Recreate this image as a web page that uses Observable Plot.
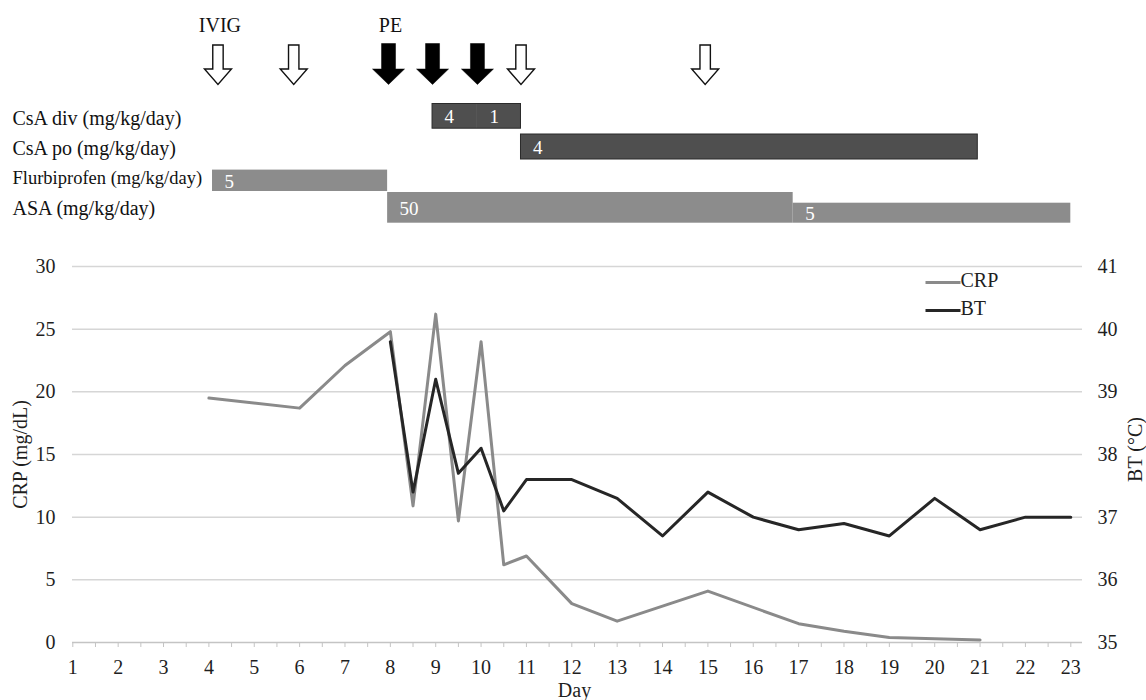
<!DOCTYPE html>
<html>
<head>
<meta charset="utf-8">
<script src="https://cdn.jsdelivr.net/npm/d3@7"></script>
<script src="https://cdn.jsdelivr.net/npm/@observablehq/plot@0.6"></script>
<style>
  body { margin: 0; background: #fff; }
  #chart svg { display: block; }
</style>
</head>
<body>
<div id="chart"></div>
<script>
// ---------------- data ----------------
const drugs = ["CsA div", "CsA po", "Flurbiprofen", "ASA"];
const doseUnit = "(mg/kg/day)";

const segDrug  = ["CsA div", "CsA div", "CsA po", "Flurbiprofen", "ASA", "ASA"];
const segStart = [8.93, 9.92, 10.88, 4.08, 7.94, 16.88];
const segEnd   = [9.92, 10.88, 20.95, 7.94, 16.88, 23];
const segDose  = [4, 1, 4, 5, 50, 5];

const eventDay  = [4.2, 5.87, 7.96, 8.93, 9.92, 10.88, 14.94];
const eventType = ["IVIG", "IVIG", "PE", "PE", "PE", "IVIG", "IVIG"];

const crpDay = [4, 6, 7, 8, 8.5, 9, 9.5, 10, 10.5, 11, 12, 13, 15, 17, 18, 19, 21];
const crpVal = [19.5, 18.7, 22.1, 24.8, 10.9, 26.2, 9.7, 24.0, 6.2, 6.9, 3.1, 1.7, 4.1, 1.5, 0.9, 0.4, 0.2];

const btDay = [8, 8.5, 9, 9.5, 10, 10.5, 11, 12, 13, 14, 15, 16, 17, 18, 19, 20, 21, 22, 23];
const btVal = [39.8, 37.4, 39.2, 37.7, 38.1, 37.1, 37.6, 37.6, 37.3, 36.7, 37.4, 37.0, 36.8, 36.9, 36.7, 37.3, 36.8, 37.0, 37.0];

const dayTicks = d3.range(1, 24);
const crpTicks = [0, 5, 10, 15, 20, 25, 30];
const btTicks  = [35, 36, 37, 38, 39, 40, 41];
const seriesNames = ["CRP", "BT"];
const axisTitles = {crp: "CRP (mg/dL)", bt: "BT (°C)", x: "Day"};

// ---------------- build ----------------
const W = 1146;
const font = "'Liberation Serif', 'Times New Roman', serif";
const xScale = {domain: [dayTicks[0], dayTicks[dayTicks.length - 1]], range: [72.3, 1070.3]};
const darkFill = "#4f4f4f", grayFill = "#8c8c8c";
const crpColor = "#8a8a8a", btColor = "#262626";

const segs = segDrug.map((drug, i) => ({drug, start: segStart[i], end: segEnd[i], dose: segDose[i]}));
const events = eventDay.map((day, i) => ({day, type: eventType[i]}));
const firstEvents = d3.groups(events, d => d.type).map(([, v]) => v[0]);
const isDark = d => d.drug.startsWith("CsA");

const rowInset = {"CsA div": [0.5, 4.8], "CsA po": [1, 4], "Flurbiprofen": [6.6, 2], "ASA": [-1, 0.3]};
const insetTopFor = s => (s.drug === "ASA" && s.dose < d3.max(segs.filter(d => d.drug === "ASA"), d => d.dose)) ? 9.7 : rowInset[s.drug][0];
const insetBottomFor = s => rowInset[s.drug][1];

const darkOutline = d3.rollups(segs.filter(isDark),
  v => ({drug: v[0].drug, start: d3.min(v, d => d.start), end: d3.max(v, d => d.end)}),
  d => d.drug).map(d => d[1]);

const hollowArrow = {draw(ctx) {
  ctx.moveTo(-5.2, -19); ctx.lineTo(5.2, -19); ctx.lineTo(5.2, 5); ctx.lineTo(13.5, 5);
  ctx.lineTo(0, 20.5); ctx.lineTo(-13.5, 5); ctx.lineTo(-5.2, 5); ctx.closePath();
}};
const solidArrow = {draw(ctx) {
  ctx.moveTo(-7, -20.5); ctx.lineTo(7, -20.5); ctx.lineTo(7, 5); ctx.lineTo(16, 5);
  ctx.lineTo(0, 20.5); ctx.lineTo(-16, 5); ctx.lineTo(-7, 5); ctx.closePath();
}};
const legendLine = {draw(ctx) { ctx.moveTo(-17.5, 0); ctx.lineTo(17.5, 0); }};

const segMarks = segs.flatMap(s => {
  const it = insetTopFor(s), ib = insetBottomFor(s);
  return [
    Plot.barX([s], {x1: "start", x2: "end", y: "drug", fill: isDark(s) ? darkFill : grayFill,
      insetTop: it, insetBottom: ib}),
    Plot.text([s], {x: "start", y: "drug", text: d => String(d.dose), textAnchor: "start",
      lineAnchor: "middle", dx: 12, dy: (it - ib) / 2 + 1, fill: "#fff", fontSize: 19})
  ];
});
const outlineMarks = darkOutline.map(o =>
  Plot.barX([o], {x1: "start", x2: "end", y: "drug", fill: "none", stroke: "#2b2b2b", strokeWidth: 1,
    insetTop: rowInset[o.drug][0], insetBottom: rowInset[o.drug][1]}));

const topPlot = Plot.plot({
  width: W, height: 240,
  marginLeft: 72, marginRight: 64, marginTop: 101.5, marginBottom: 14.7,
  style: {fontFamily: font, fontSize: "20px", color: "#1a1a1a", background: "#fff"},
  x: {...xScale, axis: null},
  y: {type: "band", domain: drugs, padding: 0, axis: null},
  marks: [
    Plot.text(drugs, {y: d => d, text: d => `${d} ${doseUnit}`, frameAnchor: "left", textAnchor: "start",
      lineAnchor: "middle", dx: -60, fontSize: d => d === "Flurbiprofen" ? 18.5 : 20, fill: "#111"}),
    ...segMarks.filter((m, i) => i % 2 === 0),
    ...outlineMarks,
    ...segMarks.filter((m, i) => i % 2 === 1),
    Plot.dot(events.filter(d => d.type === "IVIG"), {x: "day", frameAnchor: "top", dy: -38,
      symbol: hollowArrow, fill: "#fff", stroke: "#111", strokeWidth: 1.4}),
    Plot.dot(events.filter(d => d.type === "PE"), {x: "day", frameAnchor: "top", dy: -38,
      symbol: solidArrow, fill: "#000", stroke: "#000", strokeWidth: 0.5}),
    Plot.text(firstEvents, {x: "day", text: "type", frameAnchor: "top", lineAnchor: "middle",
      textAnchor: "middle", dy: -76.5, dx: 2, fontSize: 20, fill: "#111"})
  ]
});

const crpData = crpDay.map((day, i) => ({day, value: crpVal[i]}));
const btData = btDay.map((day, i) => ({day, value: btVal[i]}));
const crpMax = crpTicks[crpTicks.length - 1];
const btMin = btTicks[0], btMax = btTicks[btTicks.length - 1];
const factor = (crpMax - crpTicks[0]) / (btMax - btMin);
const btToY = t => (t - btMin) * factor;
const halfTicks = d3.range(dayTicks[0], dayTicks[dayTicks.length - 1] + 0.01, 0.5);

const bottomPlot = Plot.plot({
  width: W, height: 460,
  marginLeft: 72, marginRight: 64, marginTop: 26, marginBottom: 58,
  style: {fontFamily: font, fontSize: "20px", color: "#1f1f1f", background: "#fff"},
  x: {...xScale},
  y: {domain: [crpTicks[0], crpMax]},
  marks: [
    Plot.ruleY(crpTicks.filter(t => t > 0), {stroke: "#d6d6d6", strokeWidth: 1.5}),
    Plot.ruleY([crpTicks[0]], {stroke: "#c4c4c4", strokeWidth: 1.5}),
    Plot.axisX({ticks: halfTicks, tickSize: 5, fill: "none", stroke: "#c4c4c4", label: null}),
    Plot.axisX({ticks: dayTicks, tickSize: 0, tickPadding: 17, label: null, fill: "#1f1f1f"}),
    Plot.axisY({ticks: crpTicks, anchor: "left", tickSize: 0, tickPadding: 17, label: null, fill: "#1f1f1f"}),
    Plot.axisY({ticks: btTicks.map(btToY), tickFormat: v => String(Math.round(btMin + v / factor)),
      anchor: "right", tickSize: 0, tickPadding: 15, label: null, fill: "#1f1f1f"}),
    Plot.text([axisTitles.crp], {frameAnchor: "left", rotate: -90, dx: -52, lineAnchor: "middle", textAnchor: "middle", fill: "#1f1f1f"}),
    Plot.text([axisTitles.bt], {frameAnchor: "right", rotate: -90, dx: 53, dy: -5, lineAnchor: "middle", textAnchor: "middle", fill: "#1f1f1f"}),
    Plot.text([axisTitles.x], {frameAnchor: "bottom", dy: 48.5, dx: -3, lineAnchor: "middle", textAnchor: "middle", fill: "#1f1f1f"}),
    Plot.line(crpData, {x: "day", y: "value", stroke: crpColor, strokeWidth: 3}),
    Plot.line(btData, {x: "day", y: d => btToY(d.value), stroke: btColor, strokeWidth: 3}),
    Plot.dot([seriesNames[0]], {frameAnchor: "top-right", dx: -139.5, dy: 16, symbol: legendLine,
      stroke: crpColor, strokeWidth: 3, fill: "none"}),
    Plot.dot([seriesNames[1]], {frameAnchor: "top-right", dx: -139.5, dy: 44, symbol: legendLine,
      stroke: btColor, strokeWidth: 3, fill: "none"}),
    Plot.text([seriesNames[0]], {frameAnchor: "top-right", text: d => d, textAnchor: "start", lineAnchor: "middle",
      dx: -122, dy: 14.5, fill: "#1f1f1f"}),
    Plot.text([seriesNames[1]], {frameAnchor: "top-right", text: d => d, textAnchor: "start", lineAnchor: "middle",
      dx: -122, dy: 42.5, fill: "#1f1f1f"})
  ]
});

const chart = document.getElementById("chart");
chart.append(topPlot, bottomPlot);
</script>
</body>
</html>
